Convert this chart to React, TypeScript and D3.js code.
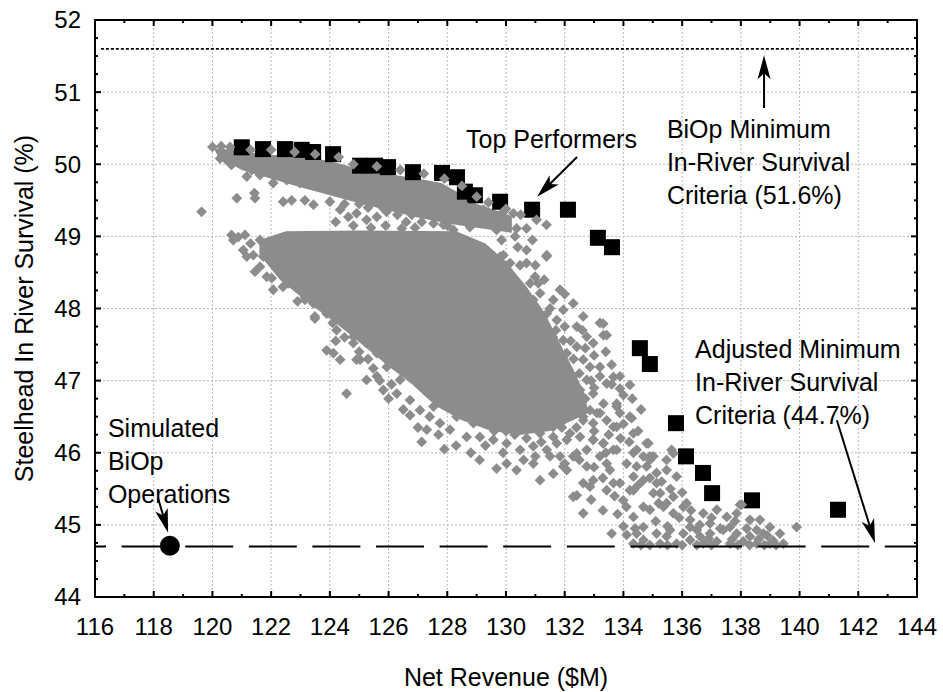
import React from 'react';
import * as d3 from 'd3';

// axis ticks
const xTickValues = [116, 118, 120, 122, 124, 126, 128, 130, 132, 134, 136, 138, 140, 142, 144];
const yTickValues = [44, 45, 46, 47, 48, 49, 50, 51, 52];

// reference criteria (%)
const biopCriteria = 51.6;
const adjustedCriteria = 44.7;

// simulated BiOp operations (net revenue $M, survival %)
const simulatedBiop: [number, number] = [118.55, 44.71];

// top performers (net revenue $M, survival %)
const topRevenue = [121.0, 121.72, 122.47, 123.04, 123.43, 124.11, 125.03, 125.54, 125.98, 126.83, 127.82, 128.33, 128.6, 128.94, 129.8, 130.89, 132.11, 133.13, 133.61, 134.56, 134.9, 135.79, 136.13, 136.71, 137.02, 138.38, 141.31];
const topSurvival = [50.235, 50.21, 50.21, 50.2, 50.17, 50.14, 49.98, 49.98, 49.96, 49.89, 49.88, 49.82, 49.62, 49.57, 49.48, 49.37, 49.37, 48.98, 48.85, 47.45, 47.23, 46.41, 45.95, 45.72, 45.44, 45.34, 45.21];

// outline of the solid part of the upper band of runs
const upperBandEdge: [number, number][] = [
  [120.05, 50.22], [120.8, 50.2], [121.6, 50.14], [122.4, 50.12], [123.2, 50.1], [124.0, 50.04], [124.6, 49.98],
  [125.3, 49.88], [126.2, 49.85], [127.0, 49.8], [127.8, 49.74], [128.4, 49.6], [129.0, 49.45], [129.6, 49.37], [130.2, 49.28],
  [130.2, 49.05], [129.0, 49.12], [128.0, 49.18], [127.0, 49.26], [126.0, 49.36], [125.0, 49.46], [124.0, 49.57],
  [123.0, 49.68], [122.0, 49.8], [121.0, 49.92], [120.2, 50.1],
];

// outline of the solid core of the main cloud of runs
const mainCloudEdge: [number, number][] = [
  [121.6, 48.95], [122.5, 49.07], [125.0, 49.08], [128.3, 49.07], [129.3, 48.9], [130.0, 48.65], [130.7, 48.3],
  [131.3, 47.95], [131.8, 47.55], [132.3, 47.15], [132.7, 46.8], [132.8, 46.55],
  [131.5, 46.3], [130.5, 46.25], [129.5, 46.3], [128.5, 46.45], [127.6, 46.65], [126.8, 46.95], [126.0, 47.2],
  [125.1, 47.5], [124.2, 47.8], [123.2, 48.1], [122.3, 48.4], [121.6, 48.75],
];

// individual runs (net revenue $M, survival %)
const otherRuns: [number, number][] = [
  [120.0, 50.24], [120.3, 50.25], [120.6, 50.24], [121.3, 50.2], [122.0, 50.2], [122.8, 50.17], [123.5, 50.14], [124.3, 50.1],
  [124.8, 50.0], [125.6, 49.97], [126.4, 49.92], [127.2, 49.87], [127.9, 49.8], [128.5, 49.7], [129.0, 49.55], [129.4, 49.47],
  [130.0, 49.38], [130.5, 49.3], [120.26, 50.08], [120.48, 50.06], [120.65, 49.99], [120.99, 50.04], [121.34, 49.92],
  [121.17, 49.83], [121.62, 49.85], [122.07, 49.74], [122.53, 49.78], [122.98, 49.74], [123.55, 49.71], [124.12, 49.67],
  [124.8, 49.6], [125.48, 49.57], [126.05, 49.64], [126.73, 49.62], [127.07, 49.57], [127.64, 49.6], [127.35, 49.44],
  [128.09, 49.37], [128.66, 49.41], [129.23, 49.37],
  [120.83, 49.53], [121.45, 49.53], [121.43, 49.6], [119.63, 49.34], [122.41, 49.48], [122.7, 49.5], [123.15, 49.5],
  [123.44, 49.44], [124.0, 49.48], [124.35, 49.37], [124.63, 49.27], [124.91, 49.32], [125.25, 49.23], [125.6, 49.27],
  [125.93, 49.34], [126.16, 49.48], [126.45, 49.11], [126.79, 49.3], [127.13, 49.2], [127.53, 49.18], [127.87, 49.16],
  [128.21, 49.09], [128.55, 49.25], [128.77, 49.13], [129.11, 49.23], [129.45, 49.2], [129.68, 49.09],
  [124.5, 49.45], [125.0, 49.45], [125.3, 49.4], [125.8, 49.4], [126.3, 49.3], [126.6, 49.2], [127.0, 49.35], [127.4, 49.3],
  [127.8, 49.28], [128.2, 49.25], [128.0, 49.15], [126.9, 49.12], [125.9, 49.15], [125.4, 49.12], [124.8, 49.15], [124.2, 49.2],
  [129.91, 49.34], [130.25, 49.32], [129.8, 49.23], [130.36, 49.11], [130.7, 49.11], [131.38, 49.16], [131.04, 49.23],
  [129.85, 48.95], [130.31, 49.0], [129.23, 48.77], [129.8, 48.72], [131.38, 48.72], [130.48, 48.6], [130.14, 48.63], [130.7, 48.81],
  [130.4, 48.85], [130.9, 48.95], [131.0, 48.6], [131.3, 48.4], [131.1, 48.35], [132.0, 48.2], [131.5, 48.0], [131.2, 47.8],
  [131.6, 47.6], [131.7, 47.7], [132.0, 47.75], [132.6, 47.7], [132.2, 47.55], [132.7, 47.45], [133.0, 47.35], [133.4, 47.4],
  [120.65, 49.02], [120.88, 48.99], [121.11, 49.02], [120.71, 48.95], [121.62, 48.95], [121.85, 48.86], [122.19, 48.88],
  [122.36, 48.95], [122.07, 48.74], [121.73, 48.72], [121.05, 48.81], [121.39, 48.74], [121.17, 48.72], [121.45, 48.51],
  [121.62, 48.58], [121.85, 48.44], [122.02, 48.42], [122.07, 48.26], [122.41, 48.63], [122.7, 48.72], [122.53, 48.49],
  [122.87, 48.44], [123.1, 48.53], [122.58, 48.35], [122.98, 48.3], [123.15, 48.16], [123.49, 48.19], [123.66, 48.14],
  [123.49, 47.86], [123.89, 47.93], [124.12, 48.03], [124.35, 47.89], [123.44, 48.35], [123.78, 48.3], [123.89, 48.49],
  [123.21, 48.77], [123.66, 48.86], [123.44, 48.95], [123.89, 47.42],
  [124.23, 47.7], [124.57, 47.79], [124.8, 47.61], [124.91, 47.29], [125.25, 47.52], [125.48, 47.17], [125.6, 47.38],
  [125.93, 47.29], [125.82, 47.52], [126.16, 47.66], [124.69, 47.98], [125.14, 47.75], [124.4, 48.2],
  [121.3, 48.9], [121.9, 48.7], [122.2, 48.55], [122.4, 48.3], [122.9, 48.1], [123.8, 48.1], [124.1, 47.8], [124.5, 47.6],
  [124.2, 47.55], [125.0, 47.4], [125.3, 47.3], [125.7, 47.0], [126.1, 46.95], [126.0, 46.75], [126.5, 46.6], [127.4, 46.5],
  [127.7, 46.25], [128.3, 46.1], [128.8, 46.0], [129.1, 45.9], [127.0, 46.35], [127.9, 46.05],
  [131.39, 48.74], [129.91, 48.74], [130.7, 48.63], [130.82, 48.35], [130.99, 48.44], [131.16, 48.21],
  [131.84, 48.26], [130.93, 48.12], [131.61, 48.12], [132.29, 48.07], [131.95, 47.98], [131.39, 47.93], [132.63, 47.89],
  [132.41, 47.75], [131.73, 47.84], [133.2, 47.8], [133.32, 47.63], [132.75, 47.61], [132.97, 47.52], [132.41, 47.47],
  [131.95, 47.56], [131.61, 47.42], [132.07, 47.38], [132.63, 47.29], [132.86, 47.19], [133.2, 47.19], [133.6, 47.22],
  [133.88, 47.06], [134.22, 46.94], [133.43, 46.96], [133.2, 47.06], [132.75, 47.01], [132.29, 47.06], [132.52, 46.87],
  [132.07, 46.82], [132.97, 46.82], [133.32, 46.68], [133.77, 46.68], [133.88, 46.55], [134.22, 46.5], [133.43, 46.45],
  [133.77, 46.36], [132.86, 46.59], [132.63, 46.5], [132.97, 46.41], [132.41, 46.64], [131.95, 46.73], [131.61, 46.82],
  [131.39, 46.68], [131.84, 46.5], [131.39, 46.41], [130.93, 46.5], [130.48, 46.59], [130.02, 46.64], [129.57, 46.68],
  [129.11, 46.64], [128.66, 46.59], [128.32, 46.5], [128.89, 46.41], [129.34, 46.45], [129.8, 46.36], [130.25, 46.41],
  [130.7, 46.32], [131.16, 46.27], [131.61, 46.22], [132.07, 46.18], [132.52, 46.22], [132.97, 46.18], [133.32, 46.13],
  [133.66, 46.04], [134.34, 46.0], [134.79, 46.13], [134.9, 45.95], [134.11, 45.85], [133.54, 45.76], [133.2, 45.95],
  [132.75, 46.04], [132.29, 45.95], [131.84, 45.95], [131.39, 46.04], [130.93, 46.09], [130.48, 46.04], [130.02, 46.13],
  [129.57, 46.18], [129.11, 46.22], [128.66, 46.22], [128.09, 46.32], [127.75, 46.41], [127.3, 46.32], [127.13, 46.15],
  [126.73, 46.52], [127.07, 46.59], [127.53, 46.64], [127.98, 46.68], [129.68, 45.78], [130.02, 45.85], [130.36, 45.76],
  [130.93, 45.85], [131.16, 45.62], [131.61, 45.71], [132.07, 45.76], [132.41, 45.41], [132.63, 45.58], [132.97, 45.62],
  [133.43, 45.48], [133.88, 45.58], [134.34, 45.67], [134.79, 45.81], [135.13, 45.58], [135.47, 45.76], [135.7, 45.99],
  [130.5, 47.3], [130.9, 47.2], [131.2, 47.0], [131.6, 47.1], [131.9, 47.25], [132.3, 47.3], [132.1, 47.15], [132.5, 47.1],
  [131.8, 46.95], [132.2, 46.95], [132.9, 47.0], [133.0, 46.9], [132.7, 46.75], [133.1, 46.55], [132.4, 46.35], [131.9, 46.35],
  [131.5, 46.5], [131.2, 46.55], [130.8, 46.45], [130.3, 46.25], [130.0, 46.3], [129.6, 46.3], [129.3, 46.1], [129.9, 46.0],
  [130.7, 46.2], [131.2, 46.15], [131.5, 45.95], [131.0, 45.95], [130.6, 45.9], [132.0, 45.85], [132.5, 45.9], [133.0, 45.8],
  [133.4, 46.0], [133.0, 46.3], [133.5, 46.25], [133.9, 46.2], [134.0, 46.4], [134.5, 46.3], [134.2, 46.15], [134.6, 46.6],
  [134.3, 46.75], [134.0, 46.8], [133.6, 46.95],
  [124.57, 46.82], [125.03, 47.29], [125.6, 47.06], [125.94, 47.19], [126.39, 47.01], [126.28, 46.82], [126.73, 46.73],
  [125.82, 46.87], [125.25, 47.01], [124.35, 47.29], [124.12, 47.38], [124.8, 47.52], [123.49, 47.89], [123.89, 47.98],
  [123.15, 48.12], [123.44, 48.07],
  [131.73, 46.13], [132.18, 46.27], [132.63, 46.45], [133.2, 46.55], [133.77, 46.64], [133.66, 46.36], [132.97, 46.18],
  [132.41, 45.99], [131.95, 45.81], [132.75, 45.81], [133.43, 45.85], [134.45, 46.04], [134.34, 46.27], [134.9, 45.9],
  [135.47, 45.9], [135.13, 45.72], [134.68, 45.62], [134.22, 45.48], [133.99, 45.34], [132.29, 45.39], [132.86, 45.53],
  [132.63, 45.16], [133.6, 44.88], [134.11, 44.86], [134.45, 44.88], [134.9, 45.21], [135.36, 45.25], [135.7, 45.16],
  [136.04, 45.25], [135.7, 45.39], [135.25, 45.44], [136.27, 45.07], [136.72, 45.16], [137.18, 45.21], [137.52, 45.11],
  [137.86, 45.16], [138.03, 45.28], [138.31, 45.07], [138.65, 45.07], [138.77, 44.88], [139.33, 44.88], [139.45, 44.74],
  [139.9, 44.97], [137.86, 44.88], [137.4, 44.93], [136.95, 44.88], [136.5, 44.93], [136.04, 44.88], [135.59, 44.93],
  [135.13, 44.88], [134.68, 44.79], [135.25, 44.74], [135.81, 44.74], [136.27, 44.79], [136.72, 44.74], [137.18, 44.77],
  [137.63, 44.74], [138.08, 44.77], [138.54, 44.74], [138.99, 44.74], [134.9, 44.72], [135.47, 44.84], [136.61, 44.84],
  [138.31, 44.84], [134.34, 44.74], [134.68, 44.97], [136.27, 44.97], [136.95, 45.02], [137.63, 44.97], [138.54, 44.93],
  [138.99, 44.97], [134.34, 45.11], [134.68, 45.25], [131.73, 46.55], [132.29, 46.64], [131.61, 46.36],
  [134.6, 44.72], [135.5, 44.72], [136.0, 44.72], [136.5, 44.72], [137.0, 44.72], [137.9, 44.72], [138.3, 44.72],
  [138.8, 44.72], [139.2, 44.72], [136.9, 44.81], [137.7, 44.8], [138.6, 44.8],
  [132.9, 45.35], [133.3, 45.2], [133.8, 45.15], [133.3, 45.65], [133.7, 45.4], [134.1, 45.25], [134.5, 45.55], [134.9, 45.65],
  [135.3, 45.6], [135.2, 45.3], [135.6, 45.5], [136.0, 45.45], [135.9, 45.1], [136.3, 45.2], [136.6, 45.0], [137.0, 45.1],
  [137.3, 44.95], [137.8, 45.05], [138.2, 44.95], [138.9, 44.85], [139.1, 44.78], [134.0, 44.98], [134.4, 44.95], [135.1, 45.05],
  [135.5, 44.98],
  [133.31, 47.79], [133.43, 47.63], [133.66, 47.05], [133.88, 46.89], [134.28, 46.48], [133.31, 46.13], [133.77, 46.04],
  [134.85, 46.13], [134.68, 45.95], [135.02, 45.95], [135.64, 46.04], [134.45, 45.81], [135.81, 45.67], [133.66, 45.58],
  [134.34, 45.48], [135.02, 45.44], [135.47, 45.3], [136.15, 45.3], [137.97, 45.28],
];

const W = 943;
const H = 692;
const x = d3.scaleLinear().domain([116, 144]).range([95, 917]);
const y = d3.scaleLinear().domain([44, 52]).range([597, 20]);

const font = 'Liberation Sans, Arial, sans-serif';
const gray = '#8c8c8c';

const outline = d3.line<[number, number]>()
  .x(d => x(d[0]))
  .y(d => y(d[1]))
  .curve(d3.curveLinearClosed);

const Arrow = ({ from, to }: { from: [number, number], to: [number, number] }) => {
  const x0 = x(from[0]), y0 = y(from[1]);
  const x1 = x(to[0]), y1 = y(to[1]);
  const len = Math.hypot(x1 - x0, y1 - y0);
  const ux = (x1 - x0) / len, uy = (y1 - y0) / len;
  const nx = -uy, ny = ux;
  const L = 24, w = 6.5, notch = 6;
  const bx = x1 - ux * L, by = y1 - uy * L;
  const mx = x1 - ux * (L - notch), my = y1 - uy * (L - notch);
  const head = `M${x1},${y1}L${bx + nx * w},${by + ny * w}L${mx},${my}L${bx - nx * w},${by - ny * w}Z`;
  return (
    <g>
      <line x1={x0} y1={y0} x2={mx} y2={my} stroke="#000" strokeWidth={2} />
      <path d={head} fill="#000" />
    </g>
  );
};

const Label = ({ at, lines, anchor = 'start' }: { at: [number, number], lines: string[], anchor?: string }) => (
  <text x={x(at[0])} y={y(at[1])} fontSize={25} fontFamily={font} textAnchor={anchor} fill="#000">
    {lines.map((l, i) => (
      <tspan key={i} x={x(at[0])} dy={i === 0 ? 0 : 33}>{l}</tspan>
    ))}
  </text>
);

const App = () => {
  const [x0, x1] = x.range();
  const [yb, yt] = y.range();
  const minorX = d3.range(116, 144.01, 1);
  const minorY = d3.range(44, 52.01, 0.25);

  return (
    <svg width={W} height={H} style={{ position: 'absolute', left: 0, top: 0, background: '#fff' }}>
      {/* grid */}
      <g stroke="#b8b8b8" strokeWidth={1} strokeDasharray="2 2">
        {xTickValues.slice(1, -1).map(v => <line key={v} x1={x(v)} x2={x(v)} y1={yt} y2={yb} />)}
        {yTickValues.slice(1, -1).map(v => <line key={v} x1={x0} x2={x1} y1={y(v)} y2={y(v)} />)}
      </g>

      {/* dense parts of the run cloud */}
      <path d={outline(upperBandEdge) || ''} fill={gray} />
      <path d={outline(mainCloudEdge) || ''} fill={gray} />

      {/* top performers */}
      {topRevenue.map((r, i) => (
        <rect key={i} x={x(r) - 8} y={y(topSurvival[i]) - 8} width={16} height={16} fill="#000" />
      ))}

      {/* individual runs */}
      {otherRuns.map((d, i) => (
        <path key={i} transform={`translate(${x(d[0])},${y(d[1])})`} d="M0,-5.4L5.4,0L0,5.4L-5.4,0Z" fill={gray} />
      ))}

      {/* criteria lines */}
      <line x1={x(116.2)} x2={x1 - 2} y1={y(biopCriteria)} y2={y(biopCriteria)} stroke="#000" strokeWidth={1.6} strokeDasharray="3 2" />
      <line x1={x0} x2={x1} y1={y(adjustedCriteria)} y2={y(adjustedCriteria)} stroke="#000" strokeWidth={2} strokeDasharray="48 15.6" strokeDashoffset={37} />

      <circle cx={x(simulatedBiop[0])} cy={y(simulatedBiop[1])} r={10} fill="#000" />

      {/* frame + ticks */}
      <rect x={x0} y={yt} width={x1 - x0} height={yb - yt} fill="none" stroke="#000" strokeWidth={2} />
      <g stroke="#000" strokeWidth={2}>
        {minorX.map(v => {
          const len = Math.round(v) % 2 === 0 ? 6 : 3;
          return (
            <g key={v}>
              <line x1={x(v)} x2={x(v)} y1={yb} y2={yb - len} />
              <line x1={x(v)} x2={x(v)} y1={yt} y2={yt + len} />
            </g>
          );
        })}
        {minorY.map(v => {
          const len = Math.abs(v - Math.round(v)) < 1e-6 ? 6 : 3;
          return (
            <g key={v}>
              <line x1={x0} x2={x0 + len} y1={y(v)} y2={y(v)} />
              <line x1={x1} x2={x1 - len} y1={y(v)} y2={y(v)} />
            </g>
          );
        })}
      </g>

      {/* tick labels */}
      <g fontFamily={font} fontSize={24} fill="#000">
        {xTickValues.map(v => (
          <text key={v} x={x(v)} y={635} textAnchor="middle">{v}</text>
        ))}
        {yTickValues.map(v => (
          <text key={v} x={81} y={y(v)} dy="0.35em" textAnchor="end">{v}</text>
        ))}
      </g>

      {/* axis titles */}
      <text x={(x0 + x1) / 2} y={686} textAnchor="middle" fontFamily={font} fontSize={25}>Net Revenue ($M)</text>
      <text transform={`translate(33,${(yt + yb) / 2}) rotate(-90)`} textAnchor="middle" fontFamily={font} fontSize={25}>
        Steelhead In River Survival (%)
      </text>

      {/* annotations */}
      <Label at={[134.46, 50.23]} lines={['Top Performers']} anchor="end" />
      <Arrow from={[132.42, 50.1]} to={[131.06, 49.55]} />

      <Label at={[135.48, 50.36]} lines={['BiOp Minimum', 'In-River Survival', 'Criteria (51.6%)']} />
      <Arrow from={[138.79, 50.78]} to={[138.79, 51.51]} />

      <Label at={[136.44, 47.31]} lines={['Adjusted Minimum', 'In-River Survival', 'Criteria (44.7%)']} />
      <Arrow from={[141.27, 46.45]} to={[142.57, 44.75]} />

      <Label at={[116.44, 46.22]} lines={['Simulated', 'BiOp', 'Operations']} />
      <Arrow from={[118.15, 45.37]} to={[118.49, 44.89]} />
    </svg>
  );
};

export default App;
